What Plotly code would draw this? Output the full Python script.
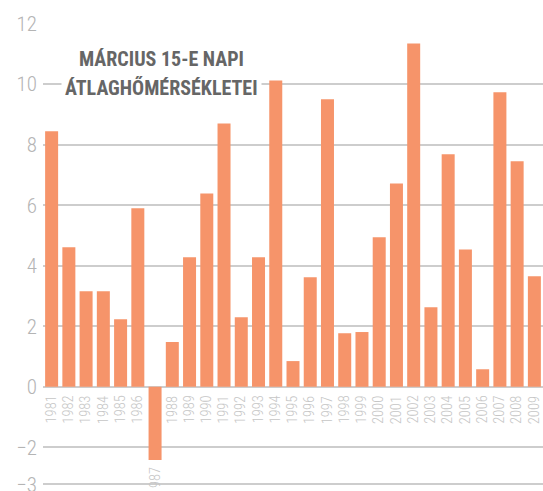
import plotly.graph_objects as go

years = [str(y) for y in range(1981, 2010)]
temps = [8.44, 4.61, 3.16, 3.16, 2.23, 5.90, -2.42, 1.48, 4.28, 6.39,
         8.70, 2.30, 4.28, 10.12, 0.85, 3.62, 9.50, 1.77, 1.81, 4.94,
         6.72, 11.34, 2.63, 7.68, 4.54, 0.58, 9.73, 7.45, 3.65]
y_tick_vals = [-3.22, -2, 0, 2, 4, 6, 8, 10, 12]
y_tick_text = ["\u22123", "\u22122", "0", "2", "4", "6", "8", "10", "12"]
title_lines = ["MÁRCIUS 15-E NAPI", "ÁTLAGHŐMÉRSÉKLETEI"]

BAR = "#F6946A"
FONT = "Roboto Condensed, Roboto, sans-serif"
Y_MIN, Y_MAX = -3.31, 12.02

fig = go.Figure()
fig.add_trace(go.Bar(x=years, y=temps, marker=dict(color=BAR, line=dict(width=0)),
                     hoverinfo="skip"))

annotations = []
shapes = []
for i, (yr, v) in enumerate(zip(years, temps)):
    if v >= 0:
        annotations.append(dict(x=i, y=0, xref="x", yref="y", text=yr, showarrow=False,
                                textangle=-90, xanchor="center", yanchor="top", yshift=-7,
                                font=dict(family=FONT, size=14.5, color="#c6c6c6", weight=300)))
    else:
        annotations.append(dict(x=i, y=v, xref="x", yref="y", text=yr, showarrow=False,
                                textangle=-90, xanchor="center", yanchor="top", yshift=-5,
                                font=dict(family=FONT, size=14.5, color="#c6c6c6", weight=300)))
        # white gap in the gridlines behind the label below a negative bar
        shapes.append(dict(type="rect", xref="x", yref="y", x0=i - 0.96, x1=i + 0.96,
                           y0=Y_MIN, y1=v, fillcolor="white", line=dict(width=0),
                           layer="below"))

title_y = [0.922, 0.860]
for line, ty in zip(title_lines, title_y):
    annotations.append(dict(x=0.236, y=ty, xref="paper", yref="paper",
                            text=line, showarrow=False,
                            xanchor="center", yanchor="middle", align="center",
                            bgcolor="white", borderpad=3,
                            font=dict(family=FONT, size=20, color="#666666", weight="bold")))

fig.update_layout(
    width=543, height=491,
    margin=dict(l=43, r=0, t=23, b=4, autoexpand=False),
    paper_bgcolor="white", plot_bgcolor="white",
    showlegend=False, bargap=0.246,
    annotations=annotations, shapes=shapes,
    xaxis=dict(type="category", showticklabels=False, showgrid=False, zeroline=False,
               showline=False, ticks="", range=[-0.5, 28.5], automargin=False),
    yaxis=dict(range=[Y_MIN, Y_MAX], tickvals=y_tick_vals, ticktext=y_tick_text,
               showgrid=True, gridcolor="#cdcdcd", gridwidth=1.6, zeroline=False,
               showline=False, ticks="", ticklabelstandoff=5, ticklabeloverflow="allow",
               automargin=False,
               tickfont=dict(family=FONT, size=21, color="#b4b4b4", weight=300)),
)

fig.write_html("out.html", config={"displayModeBar": False},
               post_script="document.body.style.margin='0';document.body.style.overflow='hidden';")
